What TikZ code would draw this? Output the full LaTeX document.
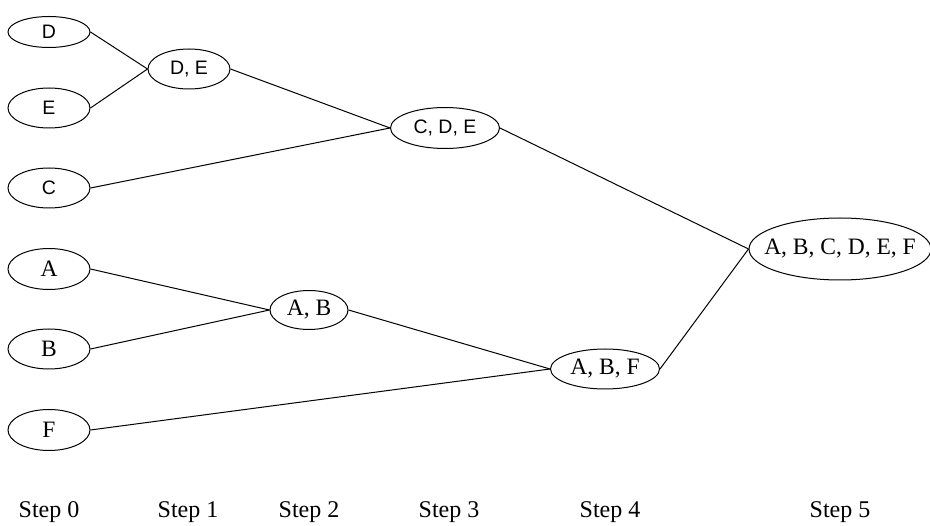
\documentclass[tikz,border=0pt]{standalone}
\usepackage{fontspec}
\setmainfont{Liberation Serif}
\newfontfamily\sansf{Liberation Sans}
\usetikzlibrary{shapes.geometric}
\tikzset{
  cluster/.style={ellipse, draw, line width=1pt, inner sep=0pt, minimum width=82pt, minimum height=40pt},
  sanslbl/.style={font=\sansf\fontsize{19.5}{19.5}\selectfont},
  seriflbl/.style={font=\fontsize{23.5}{23.5}\selectfont},
  steplbl/.style={font=\fontsize{24}{24}\selectfont, inner sep=0pt, anchor=base},
  link/.style={line width=1pt}
}
\begin{document}
\begin{tikzpicture}[x=1pt,y=-1pt]
\useasboundingbox (0,0) rectangle (930,526);
\node[cluster, sanslbl, minimum height=31pt] (D) at (49,32) {D};
\node[cluster, sanslbl] (E) at (49,108) {E};
\node[cluster, sanslbl] (C) at (49,188) {C};
\node[cluster, seriflbl, minimum height=41pt] (A) at (49,269) {A};
\node[cluster, seriflbl] (B) at (49,349) {B};
\node[cluster, seriflbl, minimum height=41pt] (F) at (49,430) {F};
\node[cluster, sanslbl] (DE) at (189,69) {D, E};
\node[cluster, sanslbl, minimum width=109pt, minimum height=41pt] (CDE) at (445,128) {C, D, E};
\node[cluster, seriflbl, minimum width=78pt, minimum height=39pt] (AB) at (309,310) {A, B};
\node[cluster, seriflbl, minimum width=109pt] (ABF) at (605,369) {A, B, F};
\node[cluster, seriflbl, inner xsep=-14pt, minimum width=182pt, minimum height=62pt] (ALL) at (840,249) {A, B, C, D, E, F};

\draw[link] (D.east) -- (DE.west);
\draw[link] (E.east) -- (DE.west);
\draw[link] (DE.east) -- (CDE.west);
\draw[link] (C.east) -- (CDE.west);
\draw[link] (CDE.east) -- (ALL.west);
\draw[link] (A.east) -- (AB.west);
\draw[link] (B.east) -- (AB.west);
\draw[link] (AB.east) -- (ABF.west);
\draw[link] (F.east) -- (ABF.west);
\draw[link] (ABF.east) -- (ALL.west);

\node[steplbl] (s0) at (49,518) {Step 0};
\node[steplbl] (s1) at (188,518) {Step 1};
\node[steplbl] (s2) at (309,518) {Step 2};
\node[steplbl] (s3) at (449,518) {Step 3};
\node[steplbl] (s4) at (610,518) {Step 4};
\node[steplbl] (s5) at (840,518) {Step 5};
\end{tikzpicture}
\end{document}
